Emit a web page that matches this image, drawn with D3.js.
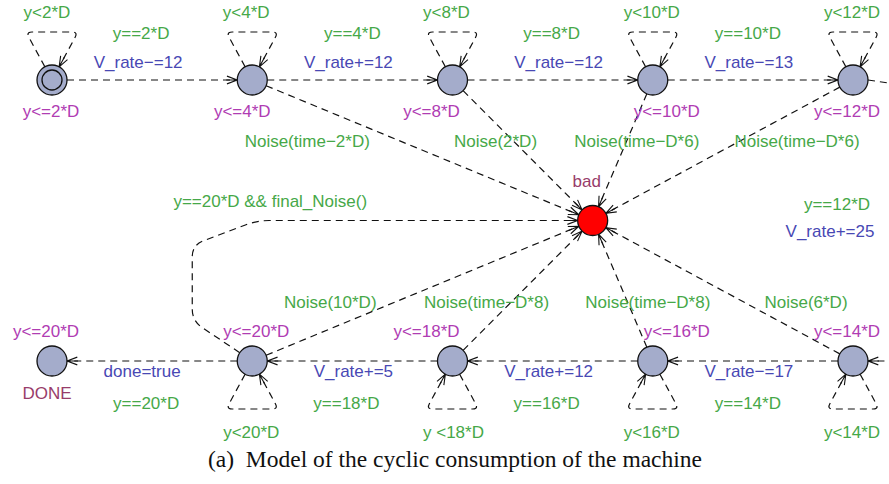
<!DOCTYPE html>
<html>
<head>
<meta charset="utf-8">
<script src="https://cdn.jsdelivr.net/npm/d3@7"></script>
<style>
  body { margin: 0; background: #fff; }
  text { font-family: "Liberation Sans", Arial, Helvetica, sans-serif; font-size: 17px; }
  .caption { font-family: "Liberation Serif", "Times New Roman", serif; font-size: 23.5px; }
</style>
</head>
<body>
<script>
// ---- data: the automaton ----
var columns = [0, 1, 2, 3, 4];

// top row, left to right
var topInvariants = ["y<=2*D", "y<=4*D", "y<=8*D", "y<=10*D", "y<=12*D"];
var topLoopGuards = ["y<2*D", "y<4*D", "y<8*D", "y<10*D", "y<12*D"];
var topGuards     = ["y==2*D", "y==4*D", "y==8*D", "y==10*D"];
var topUpdates    = ["V_rate\u2212=12", "V_rate+=12", "V_rate\u2212=12", "V_rate\u2212=13"];
var topNoise      = [null, "Noise(time\u22122*D)", "Noise(2*D)", "Noise(time\u2212D*6)", "Noise(time\u2212D*6)"];

// bottom row, left to right (edges run right to left)
var bottomInvariants = ["y<=20*D", "y<=20*D", "y<=18*D", "y<=16*D", "y<=14*D"];
var bottomLoopGuards = [null, "y<20*D", "y <18*D", "y<16*D", "y<14*D"];
var bottomGuards     = ["y==20*D", "y==18*D", "y==16*D", "y==14*D"];
var bottomUpdates    = ["done=true", "V_rate+=5", "V_rate+=12", "V_rate\u2212=17"];
var bottomNoise      = [null, "Noise(10*D)", "Noise(time\u2212D*8)", "Noise(time\u2212D*8)", "Noise(6*D)"];
// self-loop arrow side on the bottom row (+1 right leg, -1 left leg)
var bottomLoopDir    = [0, 1, -1, -1, -1];

// wrap-around edge (top right -> bottom right)
var wrapGuard  = "y==12*D";
var wrapUpdate = "V_rate+=25";
var finalGuard = "y==20*D && final_Noise()";
var doneName = "DONE";
var badName = "bad";
var captionText = "(a)\u00a0 Model of the cyclic consumption of the machine";

// ---- layout ----
var width = 889, height = 484;
var R = 15;
var green = "#46a848", purple = "#b03cb3", blue = "#4848b4", maroon = "#983c6a";
var nodeFill = "#a4accb";

var svg = d3.select("body").append("svg")
    .attr("width", width)
    .attr("height", height);

var x = d3.scaleLinear().domain([0, 4]).range([52, 853]);
var y = d3.scaleLinear().domain([0, 1]).range([80, 361]);
var bad = [x(2.7), y(0.5)];

var edges = svg.append("g");
var labels = svg.append("g");
var nodes = svg.append("g");

function dist(a, b) { return Math.hypot(b[0] - a[0], b[1] - a[1]); }
function toward(c, p, r) {
  var d = dist(c, p);
  return [c[0] + (p[0] - c[0]) / d * r, c[1] + (p[1] - c[1]) / d * r];
}
function rounded(pts, r) {
  var d = "M" + pts[0];
  for (var i = 1; i < pts.length - 1; i++) {
    var a = pts[i - 1], p = pts[i], b = pts[i + 1];
    var la = dist(a, p), lb = dist(p, b);
    var ra = Math.min(r, la / 2), rb = Math.min(r, lb / 2);
    var q1 = [p[0] + (a[0] - p[0]) * ra / la, p[1] + (a[1] - p[1]) * ra / la];
    var q2 = [p[0] + (b[0] - p[0]) * rb / lb, p[1] + (b[1] - p[1]) * rb / lb];
    d += "L" + q1 + "Q" + p + " " + q2;
  }
  return d + "L" + pts[pts.length - 1];
}
function edge(pts, corner) {
  edges.append("path")
      .attr("d", rounded(pts, corner || 8))
      .attr("fill", "none")
      .attr("stroke", "#111")
      .attr("stroke-width", 1.2)
      .attr("stroke-dasharray", "7,5");
  var tip = pts[pts.length - 1], from = pts[pts.length - 2];
  var a = Math.atan2(tip[1] - from[1], tip[0] - from[0]);
  var L = 11, s = 0.36;
  var p1 = [tip[0] - L * Math.cos(a - s), tip[1] - L * Math.sin(a - s)];
  var p2 = [tip[0] - L * Math.cos(a + s), tip[1] - L * Math.sin(a + s)];
  var p3 = [tip[0] - L * Math.cos(a), tip[1] - L * Math.sin(a)];
  edges.append("path")
      .attr("d", "M" + p1 + "L" + tip + "L" + p2 + "M" + p3 + "L" + tip)
      .attr("fill", "none")
      .attr("stroke", "#111")
      .attr("stroke-width", 1.1);
}
function label(txt, px, py, color) {
  if (!txt) return;
  labels.append("text")
      .attr("x", px)
      .attr("y", py)
      .attr("text-anchor", "middle")
      .attr("fill", color)
      .text(txt);
}

// horizontal edges
var topGuardDx = [-11, 0, -1, -5], topUpdDx = [-14, -4, 6, -4];
var botGuardDx = [-6, -6, -6, -5], botUpdDx = [-10, 1, -4, -4];
topGuards.forEach(function(g, i) {
  edge([[x(i) + R, y(0)], [x(i + 1) - R, y(0)]]);
  var mid = (x(i) + x(i + 1)) / 2;
  label(g, mid + topGuardDx[i], 39, green);
  label(topUpdates[i], mid + topUpdDx[i], 68, blue);
});
bottomGuards.forEach(function(g, i) {
  edge([[x(i + 1) - R, y(1)], [x(i) + R, y(1)]]);
  var mid = (x(i) + x(i + 1)) / 2;
  label(bottomUpdates[i], mid + botUpdDx[i], 377, blue);
  label(g, mid + botGuardDx[i], 409, green);
});

// wrap-around edge leaving the picture on the right
edge([[x(4) + R, y(0)], [x(4) + 70, y(0) + 8], [x(4) + 70, y(1)], [x(4) + R, y(1)]], 10);
label(wrapGuard, x(4) - 16, 210, green);
label(wrapUpdate, x(4) - 23, 237, blue);

// noise edges into "bad"
var topNoiseDx = [0, 55, 43, -16, -56], botNoiseDx = [0, 78, 34, -5, -47];
columns.forEach(function(c) {
  if (topNoise[c]) {
    var n = [x(c), y(0)];
    edge([toward(n, bad, R), toward(bad, n, R)]);
    label(topNoise[c], x(c) + topNoiseDx[c], 147, green);
  }
  if (bottomNoise[c]) {
    var m = [x(c), y(1)];
    edge([toward(m, bad, R), toward(bad, m, R)]);
    label(bottomNoise[c], x(c) + botNoiseDx[c], 308, green);
  }
});

// final noise check edge, bending round the left
(function() {
  var n = [x(1), y(1)];
  var b1 = [x(1) - 60, y(1) - 40], b2 = [x(1) - 60, y(1) - 116], b3 = [x(1) + 5, bad[1]];
  edge([toward(n, b1, R), b1, b2, b3, toward(bad, b3, R)], 12);
  label(finalGuard, x(1) + 18, 207, green);
})();

// self loops
var topInvDx = [-1, -10, -21, 14, -6], topLoopDx = [-5, -6, -6, -1, -1];
var botInvDx = [-6, 4, -26, 24, -6], botLoopDx = [0, -1, 1, -1, -1];
columns.forEach(function(c) {
  var n = [x(c), y(0)];
  var L = [n[0] - 26, n[1] - 48], Rt = [n[0] + 26, n[1] - 48];
  edge([toward(n, L, R), L, Rt, toward(n, Rt, R)], 6);
  label(topLoopGuards[c], x(c) + topLoopDx[c], 18, green);
  label(topInvariants[c], x(c) + topInvDx[c], 117, purple);

  var m = [x(c), y(1)];
  if (bottomLoopGuards[c]) {
    var bl = [m[0] - 26, m[1] + 48], br = [m[0] + 26, m[1] + 48];
    if (bottomLoopDir[c] > 0) edge([toward(m, bl, R), bl, br, toward(m, br, R)], 6);
    else edge([toward(m, br, R), br, bl, toward(m, bl, R)], 6);
    label(bottomLoopGuards[c], x(c) + botLoopDx[c], 438, green);
  }
  label(bottomInvariants[c], x(c) + botInvDx[c], 337, purple);
});

// locations
columns.forEach(function(c) {
  ["top", "bottom"].forEach(function(row, r) {
    nodes.append("circle")
        .attr("cx", x(c)).attr("cy", y(r)).attr("r", R)
        .attr("fill", nodeFill).attr("stroke", "#111").attr("stroke-width", 1.3);
  });
});
nodes.append("circle")
    .attr("cx", x(0)).attr("cy", y(0)).attr("r", R - 5)
    .attr("fill", "none").attr("stroke", "#111").attr("stroke-width", 1.3);
nodes.append("circle")
    .attr("cx", bad[0]).attr("cy", bad[1]).attr("r", R)
    .attr("fill", "#ff0000").attr("stroke", "#111").attr("stroke-width", 1.3);
label(badName, bad[0] - 6, 187, maroon);
label(doneName, x(0) - 5, 399, maroon);

svg.append("text")
    .attr("class", "caption")
    .attr("x", 455)
    .attr("y", 467)
    .attr("text-anchor", "middle")
    .attr("fill", "#111")
    .text(captionText);
</script>
</body>
</html>
